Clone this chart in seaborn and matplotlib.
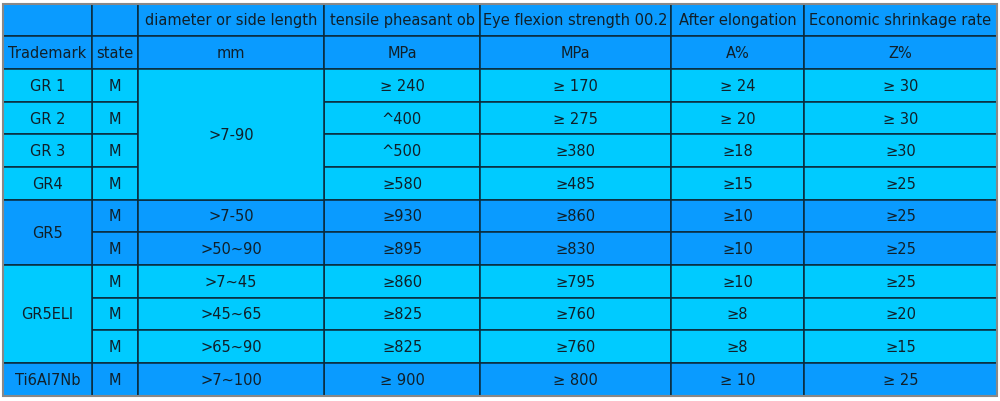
import matplotlib.pyplot as plt
import seaborn as sns
from matplotlib.patches import Rectangle

sns.set_style("white")
plt.rcParams['font.family'] = ['DejaVu Sans']

DARK = "#0a9bff"
LIGHT = "#00cbff"

col_edges = [3, 92, 138, 324, 480, 671, 804, 997]
row_edges = [5, 37, 70, 103, 135, 168, 201, 233, 266, 299, 331, 364, 397]

header1 = ["", "", "diameter or side length", "tensile pheasant ob",
           "Eye flexion strength 00.2", "After elongation", "Economic shrinkage rate"]
header2 = ["Trademark", "state", "mm", "MPa", "MPa", "A%", "Z%"]

grades = ["GR 1", "GR 2", "GR 3", "GR4", "GR5", "GR5", "GR5ELI", "GR5ELI", "GR5ELI", "Ti6Al7Nb"]
states = ["M"] * 10
diameters = [">7-90", ">7-90", ">7-90", ">7-90", ">7-50", ">50~90",
             ">7~45", ">45~65", ">65~90", ">7~100"]
tensile = ["≥ 240", "^400", "^500", "≥580", "≥930", "≥895", "≥860", "≥825", "≥825", "≥ 900"]
yield_str = ["≥ 170", "≥ 275", "≥380", "≥485", "≥860", "≥830", "≥795", "≥760", "≥760", "≥ 800"]
elong = ["≥ 24", "≥ 20", "≥18", "≥15", "≥10", "≥10", "≥10", "≥8", "≥8", "≥ 10"]
shrink = ["≥ 30", "≥ 30", "≥30", "≥25", "≥25", "≥25", "≥25", "≥20", "≥15", "≥ 25"]
row_shade = ["light"] * 4 + ["dark"] * 2 + ["light"] * 3 + ["dark"]

fig, ax = plt.subplots(figsize=(10, 4.02), dpi=100)
fig.subplots_adjust(0, 0, 1, 1)
ax.set_xlim(0, 1000)
ax.set_ylim(402, 0)
ax.axis("off")


def cell(c0, c1, r0, r1, text, color):
    x0, x1 = col_edges[c0], col_edges[c1]
    y0, y1 = row_edges[r0], row_edges[r1]
    ax.add_patch(Rectangle((x0, y0), x1 - x0, y1 - y0, facecolor=color,
                           edgecolor="#0b2a3a", lw=1.1))
    ax.text((x0 + x1) / 2, (y0 + y1) / 2, text, ha="center", va="center",
            fontsize=10.5, color="#10202a")


for c in range(7):
    cell(c, c + 1, 0, 1, header1[c], DARK)
    cell(c, c + 1, 1, 2, header2[c], DARK)

data_cols = [states, None, tensile, yield_str, elong, shrink]
for i in range(10):
    r = i + 2
    color = DARK if row_shade[i] == "dark" else LIGHT
    cell(1, 2, r, r + 1, states[i], color)
    for c, vals in zip([3, 4, 5, 6], [tensile, yield_str, elong, shrink]):
        cell(c, c + 1, r, r + 1, vals[i], color)
    if i >= 4:
        cell(2, 3, r, r + 1, diameters[i], color)

# merged cells
cell(2, 3, 2, 6, diameters[0], LIGHT)
for i, g in enumerate(grades):
    if g in grades[:i]:
        continue
    n = grades.count(g)
    color = DARK if row_shade[i] == "dark" else LIGHT
    cell(0, 1, i + 2, i + 2 + n, g, color)

ax.add_patch(Rectangle((col_edges[0], row_edges[0]), col_edges[-1] - col_edges[0],
                       row_edges[-1] - row_edges[0], fill=False, edgecolor="#888888", lw=1.5))

fig.savefig("out.png")
